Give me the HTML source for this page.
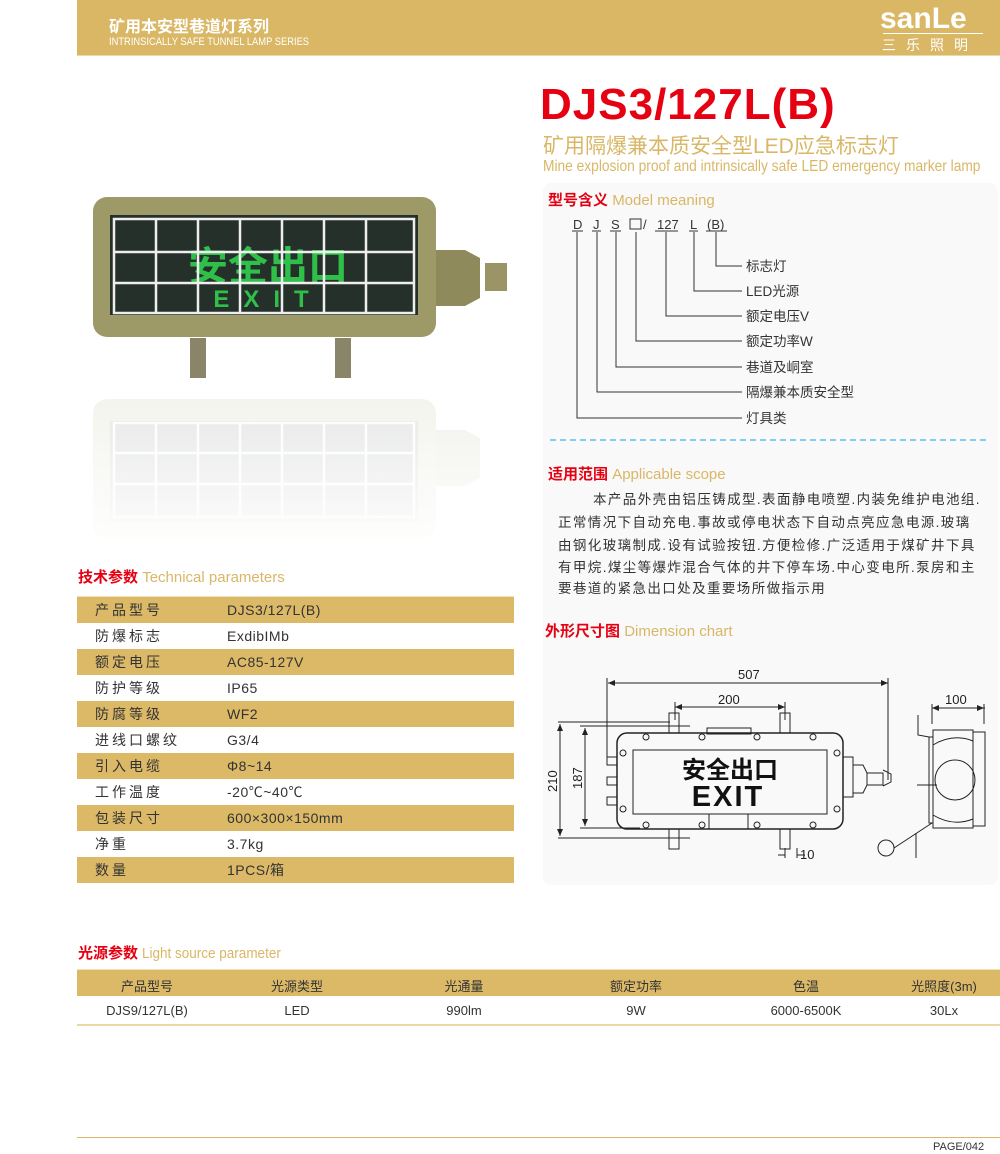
<!DOCTYPE html>
<html><head><meta charset="utf-8">
<style>
*{margin:0;padding:0;box-sizing:border-box}
body{width:1000px;height:1154px;background:#fff;position:relative;font-family:"Liberation Sans","Noto Sans CJK SC",sans-serif;color:#333;overflow:hidden}
.a{position:absolute;white-space:nowrap}
.gold{color:#d9b766}
.red{color:#e50012;font-weight:bold}
.tt{position:absolute;left:77px;width:437px;height:26px;font-size:14px;line-height:26px;color:#333}
.tt.f{background:#dcb967}
.tt span{position:absolute;left:18px;letter-spacing:3px}
.tt b{position:absolute;left:150px;font-weight:normal;letter-spacing:0.5px}
.lt{position:absolute;font-size:13px;text-align:center;width:160px}
.pl{position:absolute;left:558px;font-size:13.5px;letter-spacing:1.4px;color:#333;white-space:nowrap}
</style></head><body>
<div class="a" style="left:77px;top:0;width:923px;height:56px;background:#d9b765;border-bottom:1px solid #e9d9a8"></div>
<div class="a" style="left:109px;top:13px;font-size:16px;font-weight:bold;color:#fff">矿用本安型巷道灯系列</div>
<div class="a" style="left:109px;top:36px;font-size:11px;color:#fff;transform:scaleX(.85);transform-origin:left">INTRINSICALLY SAFE TUNNEL LAMP SERIES</div>
<div class="a" style="left:880px;top:2px;font-size:30px;font-weight:bold;color:#fff;letter-spacing:0px">sanLe</div>
<div class="a" style="left:883px;top:33px;width:100px;border-top:1px solid #fff"></div>
<div class="a" style="left:882px;top:35px;font-size:14px;color:#fff;letter-spacing:10px">三乐照明</div>

<div class="a red" style="left:540px;top:80px;font-size:44px;letter-spacing:1px">DJS3/127L(B)</div>
<div class="a gold" style="left:543px;top:130px;font-size:21px">矿用隔爆兼本质安全型LED应急标志灯</div>
<div class="a gold" style="left:543px;top:158px;font-size:16px;transform:scaleX(.86);transform-origin:left">Mine explosion proof and intrinsically safe LED emergency marker lamp</div>

<div class="a" style="left:543px;top:183px;width:455px;height:702px;background:#f9f9f9;border-radius:8px"></div>

<div class="a" style="left:548px;top:189px;font-size:15px"><span class="red">型号含义</span> <span class="gold">Model meaning</span></div>
<svg class="a" style="left:0;top:0" width="1000" height="1154">
<g font-family="Liberation Sans" font-size="13" fill="#333">
<text x="573" y="229">D</text><text x="593" y="229">J</text><text x="611" y="229">S</text>
<rect x="630" y="219" width="11" height="10" fill="none" stroke="#333" stroke-width="1"/>
<text x="643" y="229">/</text><text x="657" y="229">127</text><text x="690" y="229">L</text><text x="707" y="229">(B)</text>
</g>
<g stroke="#333" stroke-width="1" fill="none">
<path d="M577 232V418H742M597 232V392H742M616 232V367H742M636 232V341H742M666 232V316H742M694 232V291H742M716 232V266H742"/>
<path d="M572 231H583M592 231H601M610 231H621M655 231H678M689 231H698M706 231H727"/>
</g>
<g font-family="Liberation Sans,Noto Sans CJK SC" font-size="13.5" fill="#333">
<text x="746" y="271">标志灯</text><text x="746" y="296">LED光源</text><text x="746" y="321">额定电压V</text>
<text x="746" y="346">额定功率W</text><text x="746" y="372">巷道及峒室</text><text x="746" y="397">隔爆兼本质安全型</text><text x="746" y="423">灯具类</text>
</g>
<line x1="550" y1="440" x2="988" y2="440" stroke="#5bc0eb" stroke-width="1.5" stroke-dasharray="6,4"/>

<g stroke="#222" stroke-width="1" fill="none">
<rect x="617" y="733" width="226" height="96" rx="10" stroke-width="1.5"/>
<rect x="633" y="750" width="194" height="64"/>
<line x1="709" y1="814" x2="709" y2="829"/><line x1="748" y1="814" x2="748" y2="829"/>
<rect x="707" y="728" width="44" height="6"/>
<circle cx="646" cy="737" r="3"/><circle cx="702" cy="737" r="3"/><circle cx="757" cy="737" r="3"/><circle cx="813" cy="737" r="3"/>
<circle cx="646" cy="825" r="3"/><circle cx="702" cy="825" r="3"/><circle cx="757" cy="825" r="3"/><circle cx="813" cy="825" r="3"/>
<circle cx="623" cy="753" r="3"/><circle cx="623" cy="809" r="3"/><circle cx="837" cy="753" r="3"/><circle cx="837" cy="809" r="3"/>
<rect x="669" y="713" width="10" height="20"/><rect x="780" y="713" width="10" height="20"/>
<rect x="669" y="829" width="10" height="20"/><rect x="780" y="829" width="10" height="20"/>
<rect x="607" y="757" width="10" height="8"/><rect x="607" y="777" width="10" height="8"/><rect x="607" y="797" width="10" height="8"/>
<path d="M843 757h10v40h-10M853 765h10l4 8v12l-4 8h-10M867 773h16v12h-16M883 770l8 4v8l-8 4"/>
<path d="M607 678V760M888 678V780M608 683H888M675 702V720M785 702V720M675 707H785M558 722H670M580 726H690M558 838H690M580 828H640M560 724V836M585 728V826M778 855H785M797 855H805M785 848V858M797 848V858"/>
</g>
<g fill="#222">
<path d="M608 683l7-3v6zM888 683l-7-3v6zM675 707l7-3v6zM785 707l-7-3v6zM560 724l-3 7h6zM560 836l-3-7h6zM585 728l-3 7h6zM585 826l-3-7h6z"/>
</g>
<g font-family="Liberation Sans" font-size="13" fill="#222">
<text x="738" y="679">507</text><text x="718" y="704">200</text><text x="800" y="859">10</text>
<text x="945" y="704">100</text>
<text transform="translate(557 792) rotate(-90)">210</text>
<text transform="translate(582 789) rotate(-90)">187</text>
</g>
<text x="730" y="778" text-anchor="middle" font-family="Noto Sans CJK SC" font-weight="bold" font-size="24" fill="#111">安全出口</text>
<text x="728" y="806" text-anchor="middle" font-family="Liberation Sans" font-weight="bold" font-size="29" fill="#111" letter-spacing="2">EXIT</text>
<g stroke="#222" stroke-width="1" fill="none">
<rect x="933" y="730" width="40" height="98"/><rect x="973" y="732" width="12" height="94"/>
<path d="M929 737h4v86h-4zM933 745q20-12 40-4M933 815q20 12 40 4"/>
<circle cx="955" cy="780" r="20"/>
<path d="M918 715v20l11 2M932 823l-38 25M917 785h20M932 708H985M932 704v20M984 704v20M916 833v25"/>
<circle cx="886" cy="848" r="8"/>
</g>
<path d="M932 708l7-3v6zM984 708l-7-3v6z" fill="#222"/>
</svg>

<div class="a" style="left:548px;top:463px;font-size:15px"><span class="red">适用范围</span> <span class="gold">Applicable scope</span></div>
<div class="pl" style="top:488px;left:593px">本产品外壳由铝压铸成型.表面静电喷塑.内装免维护电池组.</div>
<div class="pl" style="top:511px">正常情况下自动充电.事故或停电状态下自动点亮应急电源.玻璃</div>
<div class="pl" style="top:534px">由钢化玻璃制成.设有试验按钮.方便检修.广泛适用于煤矿井下具</div>
<div class="pl" style="top:556px">有甲烷.煤尘等爆炸混合气体的井下停车场.中心变电所.泵房和主</div>
<div class="pl" style="top:577px">要巷道的紧急出口处及重要场所做指示用</div>
<div class="a" style="left:545px;top:620px;font-size:15px"><span class="red">外形尺寸图</span> <span class="gold">Dimension chart</span></div>

<svg class="a" style="left:90px;top:185px" width="440" height="370">
<defs><linearGradient id="fd" x1="0" y1="0" x2="0" y2="1"><stop offset="0" stop-color="#fff" stop-opacity=".6"/><stop offset="1" stop-color="#fff" stop-opacity="1"/></linearGradient></defs>
<g>
<path d="M345 65h30l15 8v40l-15 8h-30z" fill="#8e8a5c"/>
<rect x="395" y="78" width="22" height="28" fill="#9a9466"/>
<rect x="3" y="12" width="343" height="140" rx="14" fill="#9d9a68"/>
<rect x="20" y="30" width="308" height="100" fill="#26302a"/>
<text x="178" y="95" text-anchor="middle" font-family="Noto Sans CJK SC" font-weight="bold" font-size="40" fill="#2fc04a">安全出口</text>
<text x="178" y="122" text-anchor="middle" font-family="Liberation Sans" font-weight="bold" font-size="24" fill="#2fc04a" letter-spacing="14">EXIT</text>
<g stroke="#eee" stroke-width="2.5" fill="none">
<rect x="24" y="34" width="300" height="94"/>
<path d="M25 67H323M25 98H323M66 34V128M108 34V128M150 34V128M192 34V128M234 34V128M276 34V128"/>
</g>
<rect x="100" y="153" width="16" height="40" fill="#8a8468"/><rect x="245" y="153" width="16" height="40" fill="#8a8468"/>
</g>
<g transform="translate(0 366) scale(1 -1)" opacity=".3">
<path d="M345 65h30l15 8v40l-15 8h-30z" fill="#8e8a5c"/>
<rect x="3" y="12" width="343" height="140" rx="14" fill="#9d9a68"/>
<rect x="20" y="30" width="308" height="100" fill="#26302a"/>
<g stroke="#eee" stroke-width="2.5" fill="none">
<rect x="24" y="34" width="300" height="94"/>
<path d="M25 67H323M25 98H323M66 34V128M108 34V128M150 34V128M192 34V128M234 34V128M276 34V128"/>
</g>
</g>
<rect x="0" y="200" width="440" height="170" fill="url(#fd)"/>
</svg>

<div class="a" style="left:78px;top:566px;font-size:15px"><span class="red">技术参数</span> <span class="gold">Technical parameters</span></div>
<div class="a" style="left:77px;top:596px;width:437px;height:1px;background:#f0e2b8"></div>
<div class="tt f" style="top:597px"><span>产品型号</span><b>DJS3/127L(B)</b></div>
<div class="tt" style="top:623px"><span>防爆标志</span><b>ExdibIMb</b></div>
<div class="tt f" style="top:649px"><span>额定电压</span><b>AC85-127V</b></div>
<div class="tt" style="top:675px"><span>防护等级</span><b>IP65</b></div>
<div class="tt f" style="top:701px"><span>防腐等级</span><b>WF2</b></div>
<div class="tt" style="top:727px"><span>进线口螺纹</span><b>G3/4</b></div>
<div class="tt f" style="top:753px"><span>引入电缆</span><b>Φ8~14</b></div>
<div class="tt" style="top:779px"><span>工作温度</span><b>-20℃~40℃</b></div>
<div class="tt f" style="top:805px"><span>包装尺寸</span><b>600×300×150mm</b></div>
<div class="tt" style="top:831px"><span>净重</span><b>3.7kg</b></div>
<div class="tt f" style="top:857px"><span>数量</span><b>1PCS/箱</b></div>

<div class="a" style="left:78px;top:942px;font-size:15px"><span class="red">光源参数</span> <span class="gold" style="display:inline-block;transform:scaleX(.9);transform-origin:left">Light source parameter</span></div>
<div class="a" style="left:77px;top:969px;width:923px;height:27px;background:#dcb967;border-top:1px solid #f0e2b8"></div>
<div class="a" style="left:77px;top:1024px;width:923px;height:2px;background:#e9d9a8"></div>
<div class="lt a" style="left:67px;top:976px">产品型号</div><div class="lt a" style="left:217px;top:976px">光源类型</div>
<div class="lt a" style="left:384px;top:976px">光通量</div><div class="lt a" style="left:556px;top:976px">额定功率</div>
<div class="lt a" style="left:726px;top:976px">色温</div><div class="lt a" style="left:864px;top:976px">光照度(3m)</div>
<div class="lt a" style="left:67px;top:1003px">DJS9/127L(B)</div><div class="lt a" style="left:217px;top:1003px">LED</div>
<div class="lt a" style="left:384px;top:1003px">990lm</div><div class="lt a" style="left:556px;top:1003px">9W</div>
<div class="lt a" style="left:726px;top:1003px">6000-6500K</div><div class="lt a" style="left:864px;top:1003px">30Lx</div>

<div class="a" style="left:77px;top:1137px;width:923px;height:1px;background:#d9b765"></div>
<div class="a" style="left:933px;top:1141px;font-size:11px;color:#333">PAGE/042</div>
</body></html>
